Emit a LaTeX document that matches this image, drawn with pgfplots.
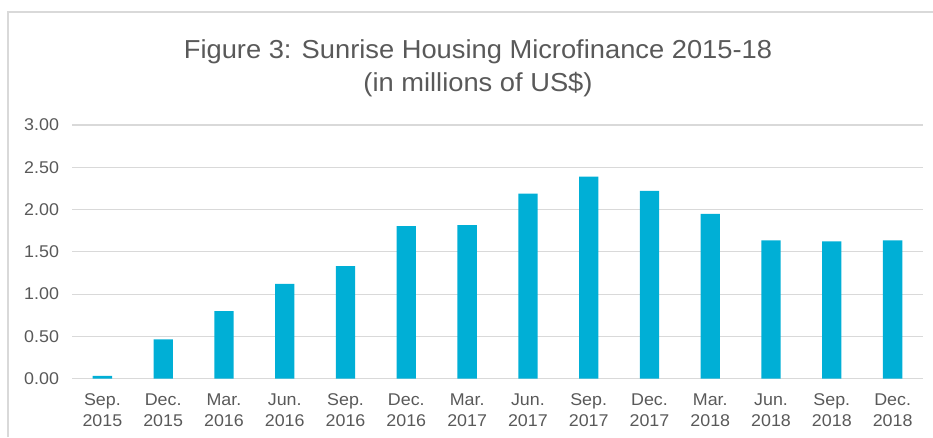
\documentclass[border=0pt]{standalone}
\usepackage{fontspec}
\setmainfont{Liberation Sans}[FakeStretch=1.05]
\usepackage{pgfplots}
\pgfplotsset{compat=1.18}
\definecolor{barblue}{HTML}{00AFD6}
\definecolor{gridgray}{HTML}{D9D9D9}
\definecolor{txt}{HTML}{595959}

\begin{document}
\begin{tikzpicture}
\useasboundingbox (0pt,0pt) rectangle (933pt,-437pt);
% chart frame (cropped on right and bottom)
\draw[gridgray, line width=1.5pt] (8pt,-437pt) -- (8pt,-12pt) -- (933pt,-12pt);
% title
\node[txt, anchor=base, font=\fontsize{26}{31}\selectfont] at (478pt,-58pt) {Figure 3: Sunrise Housing Microfinance 2015-18};
\node[txt, anchor=base, font=\fontsize{26}{31}\selectfont] at (478pt,-91.5pt) {(in millions of US\$)};
\begin{axis}[at={(72pt,-378.7pt)}, anchor=south west,
  scale only axis, width=851pt, height=253.7pt,
  xmin=-0.5, xmax=13.5, ymin=0, ymax=3,
  ytick={0,0.5,1,1.5,2,2.5,3},
  yticklabel style={font=\fontsize{17}{21}\selectfont, text=txt, xshift=-9.5pt,
    /pgf/number format/fixed, /pgf/number format/fixed zerofill,
    /pgf/number format/precision=2, /pgf/number format/assume math mode=true},
  xtick={0,...,13},
  xticklabels={{Sep.\\2015},{Dec.\\2015},{Mar.\\2016},{Jun.\\2016},{Sep.\\2016},{Dec.\\2016},{Mar.\\2017},
    {Jun.\\2017},{Sep.\\2017},{Dec.\\2017},{Mar.\\2018},{Jun.\\2018},{Sep.\\2018},{Dec.\\2018}},
  xticklabel style={align=center, anchor=base, yshift=-48.2pt,
    font=\fontsize{17}{21}\selectfont, text=txt},
  axis line style={draw=none},
  major tick length=0pt,
  ymajorgrids, grid style={gridgray, line width=1.2pt},
  ybar, bar width=19.3pt,
  clip=false]
\addplot[fill=barblue, draw=none] coordinates {
  (0,0.035) (1,0.465) (2,0.80) (3,1.12) (4,1.33) (5,1.805) (6,1.817)
  (7,2.19) (8,2.39) (9,2.22) (10,1.95) (11,1.636) (12,1.624) (13,1.636)};
\end{axis}
\end{tikzpicture}
\end{document}
